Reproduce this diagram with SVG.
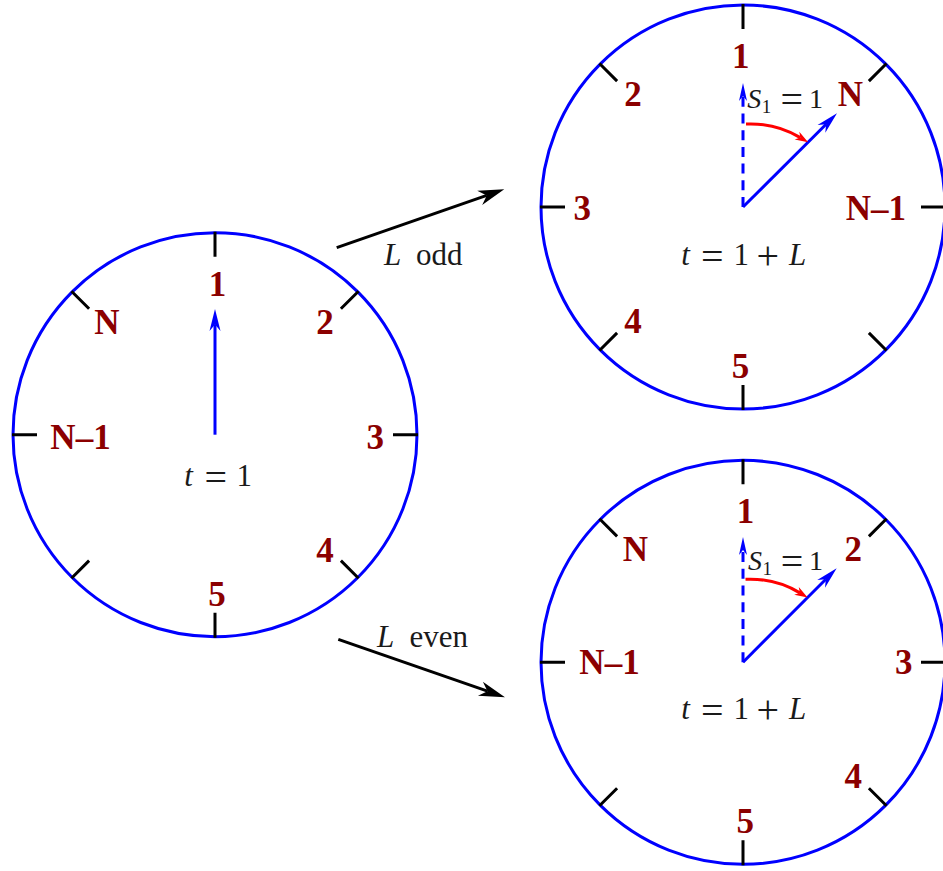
<svg xmlns="http://www.w3.org/2000/svg" width="943" height="871" viewBox="0 0 943 871">
<style>
  .dial{fill:none;stroke:#0000ff;stroke-width:3}
  .tick{stroke:#000;stroke-width:3;fill:none}
  .lbl{font-family:"Liberation Serif","Times New Roman",serif;font-weight:bold;font-size:35px;fill:#8b0000;text-anchor:middle}
  .math{font-family:"Liberation Serif","Times New Roman",serif;font-size:31px;fill:#1a1a1a;text-anchor:middle}
  .it{font-style:italic}
  .op{font-size:40px}
  .hand{stroke:#0000ff;stroke-width:3;fill:none}
  .dash{stroke:#0000ff;stroke-width:3;fill:none;stroke-dasharray:10 6.7}
  .rot{stroke:#ff0000;stroke-width:3;fill:none}
  .conn{stroke:#000;stroke-width:3;fill:none}
  .ctext{font-family:"Liberation Serif","Times New Roman",serif;font-size:31px;fill:#1a1a1a}
</style>
<defs>
  <marker id="mHand" markerUnits="userSpaceOnUse" markerWidth="22" markerHeight="11" refX="6.6" refY="5.5" orient="auto" overflow="visible">
    <path d="M0,0 L22,5.5 L0,11 L6.6,5.5 Z" fill="#0000ff"/>
  </marker>
  <marker id="mSmall" markerUnits="userSpaceOnUse" markerWidth="18" markerHeight="8" refX="5" refY="4" orient="auto" overflow="visible">
    <path d="M0,0 L18,4 L0,8 L5,4 Z" fill="#0000ff"/>
  </marker>
  <marker id="mRed" markerUnits="userSpaceOnUse" markerWidth="13" markerHeight="9" refX="4" refY="4.5" orient="auto" overflow="visible">
    <path d="M0,0 L13,4.5 L0,9 L4,4.5 Z" fill="#ff0000"/>
  </marker>
  <marker id="mBlack" markerUnits="userSpaceOnUse" markerWidth="26" markerHeight="15" refX="7.5" refY="7.5" orient="auto" overflow="visible">
    <path d="M0,0 L26,7.5 L0,15 L7.5,7.5 Z" fill="#000"/>
  </marker>
</defs>
<rect width="943" height="871" fill="#fff"/>

<g id="clock-start">
  <circle class="dial" cx="215" cy="434.7" r="202"/>
  <path class="tick" d="M215,231.7V256.7 M215,637.7V612.7 M12,434.7H37 M418,434.7H393 M71.5,291.2L89.1,308.8 M358.5,291.2L340.9,308.8 M71.5,578.2L89.1,560.6 M358.5,578.2L340.9,560.6"/>
  <text class="lbl" x="217.5" y="296">1</text>
  <text class="lbl" x="107" y="334.3">N</text>
  <text class="lbl" x="325" y="334.3">2</text>
  <text class="lbl" x="80.5" y="448.5">N–1</text>
  <text class="lbl" x="375.3" y="448.5">3</text>
  <text class="lbl" x="325" y="561.7">4</text>
  <text class="lbl" x="217" y="606">5</text>
  <path class="hand" d="M215,434.7V324.4" marker-end="url(#mHand)"/>
  <text class="math"><tspan class="it" x="188.5" y="485.7">t</tspan><tspan class="op" x="215.8" y="490.7">=</tspan><tspan x="244.2" y="485.7">1</tspan></text>
</g>

<g id="clock-odd">
  <circle class="dial" cx="743" cy="207" r="202"/>
  <path class="tick" d="M743,4V29 M743,410V385 M540,207H565 M946,207H921 M599.5,63.5L617.1,81.1 M886.5,63.5L868.9,81.1 M599.5,350.5L617.1,332.9 M886.5,350.5L868.9,332.9"/>
  <text class="lbl" x="740.7" y="68.3">1</text>
  <text class="lbl" x="633" y="106">2</text>
  <text class="lbl" x="850.5" y="106">N</text>
  <text class="lbl" x="582.3" y="220">3</text>
  <text class="lbl" x="875.8" y="220">N–1</text>
  <text class="lbl" x="633" y="333.3">4</text>
  <text class="lbl" x="740.5" y="378.3">5</text>
  <path class="dash" d="M743,207V96" marker-end="url(#mSmall)"/>
  <path class="hand" d="M743,207L826.1,124.2" marker-end="url(#mHand)"/>
  <path class="rot" d="M746,124 C767,123 786,129 800.4,137.6" marker-end="url(#mRed)"/>
  <text class="math"><tspan class="it" x="754.2" y="108.3" font-size="28">S</tspan><tspan x="766.5" y="112.5" font-size="19">1</tspan><tspan class="op" x="791.7" y="112.5" font-size="36">=</tspan><tspan x="816" y="108.3" font-size="28">1</tspan></text>
  <text class="math"><tspan class="it" x="685.5" y="265">t</tspan><tspan class="op" x="712.2" y="270">=</tspan><tspan x="741.2" y="265">1</tspan><tspan class="op" x="767.8" y="269">+</tspan><tspan class="it" x="797.5" y="265">L</tspan></text>
</g>

<g id="clock-even">
  <circle class="dial" cx="743" cy="662.3" r="202"/>
  <path class="tick" d="M743,459.3V484.3 M743,865.3V840.3 M540,662.3H565 M946,662.3H921 M599.5,518.8L617.1,536.4 M886.5,518.8L868.9,536.4 M599.5,805.8L617.1,788.2 M886.5,805.8L868.9,788.2"/>
  <text class="lbl" x="745.5" y="522.7">1</text>
  <text class="lbl" x="635.3" y="561">N</text>
  <text class="lbl" x="853.3" y="561">2</text>
  <text class="lbl" x="609.5" y="674.3">N–1</text>
  <text class="lbl" x="903.7" y="674.3">3</text>
  <text class="lbl" x="853.3" y="787.7">4</text>
  <text class="lbl" x="745.3" y="832.7">5</text>
  <path class="dash" d="M743,662.3V550" marker-end="url(#mSmall)"/>
  <path class="hand" d="M743,662.3L825.8,579.2" marker-end="url(#mHand)"/>
  <path class="rot" d="M745.5,579.3 C766.5,578.3 785.5,584.3 799.9,592.9" marker-end="url(#mRed)"/>
  <text class="math"><tspan class="it" x="755" y="570.3" font-size="28">S</tspan><tspan x="767.3" y="574.5" font-size="19">1</tspan><tspan class="op" x="792" y="574.5" font-size="36">=</tspan><tspan x="816" y="570.3" font-size="28">1</tspan></text>
  <text class="math"><tspan class="it" x="685.5" y="719.3">t</tspan><tspan class="op" x="712.2" y="724.3">=</tspan><tspan x="741.2" y="719.3">1</tspan><tspan class="op" x="767.8" y="723.3">+</tspan><tspan class="it" x="797.5" y="719.3">L</tspan></text>
</g>

<g id="connectors">
  <path class="conn" d="M336.7,247.7L486.8,195.4" marker-end="url(#mBlack)"/>
  <path class="conn" d="M338.3,639.3L487.5,691.2" marker-end="url(#mBlack)"/>
  <text class="ctext" y="265"><tspan class="it" x="384">L</tspan><tspan x="416">odd</tspan></text>
  <text class="ctext" y="646.7"><tspan class="it" x="377">L</tspan><tspan x="409.5">even</tspan></text>
</g>
</svg>
